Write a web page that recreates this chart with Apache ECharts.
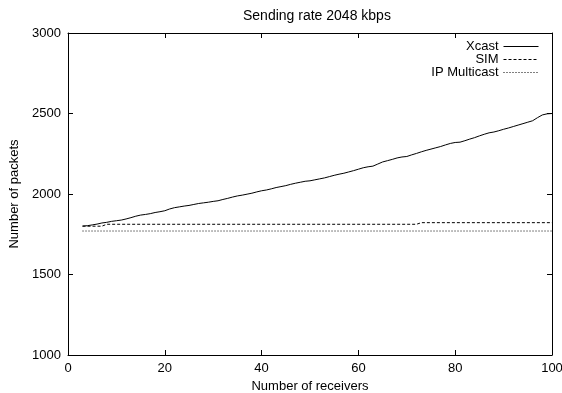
<!DOCTYPE html>
<html>
<head>
<meta charset="utf-8">
<script src="https://cdn.jsdelivr.net/npm/echarts@6/dist/echarts.min.js"></script>
<style>
  html, body { margin: 0; padding: 0; background: #fff; }
  #chart { width: 562px; height: 393px; }
</style>
</head>
<body>
<div id="chart"></div>
<script>
// Number of receivers (x) for the Xcast run
const receivers = [3,4,5,6,7,8,9,10,11,12,13,14,15,16,17,18,19,20,21,22,23,24,25,26,27,28,29,30,
  31,32,33,34,35,36,37,38,39,40,41,42,43,44,45,46,47,48,49,50,51,52,53,54,55,56,57,58,59,60,
  61,62,63,64,65,66,67,68,69,70,71,72,73,74,75,76,77,78,79,80,81,82,83,84,85,86,87,88,89,90,
  91,92,93,94,95,96,97,98,99,100];

// Packets sent by Xcast for each receiver count
const xcastPackets = [1801,1803,1808,1813,1820,1824,1830,1834,1838,1845,1853,1862,1869,1873,1878,1885,1890,1896,
  1907,1915,1920,1925,1929,1935,1941,1945,1949,1954,1958,1966,1973,1981,1988,1993,1999,2005,2013,2020,
  2025,2032,2040,2046,2052,2060,2067,2073,2079,2082,2088,2094,2100,2108,2116,2123,2129,2137,2145,2154,
  2163,2169,2173,2186,2199,2207,2215,2224,2230,2233,2243,2252,2262,2271,2279,2287,2295,2305,2314,2320,
  2322,2331,2341,2350,2361,2371,2380,2385,2393,2402,2410,2419,2428,2437,2446,2455,2474,2491,2498,2500];

// SIM: piecewise-constant packet counts (breakpoints)
const simReceivers = [3, 7, 8, 72, 73, 100];
const simPackets   = [1800, 1800, 1812, 1812, 1822, 1822];

// IP Multicast: constant packet count
const mcastReceivers = [3, 100];
const mcastPackets   = [1770, 1770];

const xTicks = { min: 0, max: 100, interval: 20 };
const yTicks = { min: 1000, max: 3000, interval: 500 };

const zip = (xs, ys) => xs.map((x, i) => [x, ys[i]]);

const FONT = 'Liberation Sans, Arial, Helvetica, sans-serif';
const txt = { color: '#000', fontFamily: FONT, fontSize: 13 };
const black = { color: '#000', width: 1 };

const chart = echarts.init(document.getElementById('chart'), null, { renderer: 'canvas' });

const mirrorAxis = {
  axisLine: { show: true, onZero: false, lineStyle: black },
  axisTick: { show: true, inside: true, length: 5, lineStyle: black },
  axisLabel: { show: false },
  splitLine: { show: false }
};

chart.setOption({
  animation: false,
  backgroundColor: '#fff',
  title: {
    text: 'Sending rate 2048 kbps',
    left: 238,
    top: 4,
    textStyle: Object.assign({}, txt, { fontSize: 14, fontWeight: 'normal' })
  },
  legend: {
    orient: 'vertical',
    align: 'right',
    right: 23,
    top: 40,
    itemWidth: 35,
    itemHeight: 8,
    itemGap: 0,
    padding: 0,
    itemStyle: { opacity: 0, borderWidth: 0 },
    lineStyle: { width: 1 },
    textStyle: Object.assign({}, txt, { lineHeight: 12 }),
    data: ['Xcast', 'SIM', 'IP Multicast']
  },
  grid: { left: 68, right: 10, top: 33, bottom: 38, outerBoundsMode: 'none', containLabel: false },
  xAxis: [
    Object.assign({
      type: 'value',
      position: 'bottom',
      name: 'Number of receivers',
      nameLocation: 'middle',
      nameGap: 21,
      nameTextStyle: txt,
      axisLabel: Object.assign({ show: true, margin: 7 }, txt)
    }, xTicks, {
      axisLine: { show: true, onZero: false, lineStyle: black },
      axisTick: { show: true, inside: true, length: 5, lineStyle: black },
      splitLine: { show: false }
    }),
    Object.assign({ type: 'value', position: 'top' }, xTicks, mirrorAxis)
  ],
  yAxis: [
    Object.assign({
      type: 'value',
      position: 'left',
      name: 'Number of packets',
      nameLocation: 'middle',
      nameGap: 44,
      nameTextStyle: txt,
      axisLabel: Object.assign({ show: true, margin: 7, formatter: v => String(v) }, txt)
    }, yTicks, {
      axisLine: { show: true, onZero: false, lineStyle: black },
      axisTick: { show: true, inside: true, length: 5, lineStyle: black },
      splitLine: { show: false }
    }),
    Object.assign({ type: 'value', position: 'right' }, yTicks, mirrorAxis)
  ],
  series: [
    {
      name: 'Xcast',
      type: 'line',
      symbol: 'none',
      xAxisIndex: 0, yAxisIndex: 0,
      lineStyle: { color: '#000', width: 1, type: 'solid' },
      itemStyle: { color: '#000' },
      data: zip(receivers, xcastPackets)
    },
    {
      name: 'SIM',
      type: 'line',
      symbol: 'none',
      xAxisIndex: 0, yAxisIndex: 0,
      lineStyle: { color: '#000', width: 1, type: [3, 2] },
      itemStyle: { color: '#000' },
      data: zip(simReceivers, simPackets)
    },
    {
      name: 'IP Multicast',
      type: 'line',
      symbol: 'none',
      xAxisIndex: 0, yAxisIndex: 0,
      lineStyle: { color: '#000', width: 1, type: [1, 2] },
      itemStyle: { color: '#000' },
      data: zip(mcastReceivers, mcastPackets)
    }
  ]
});
</script>
</body>
</html>
